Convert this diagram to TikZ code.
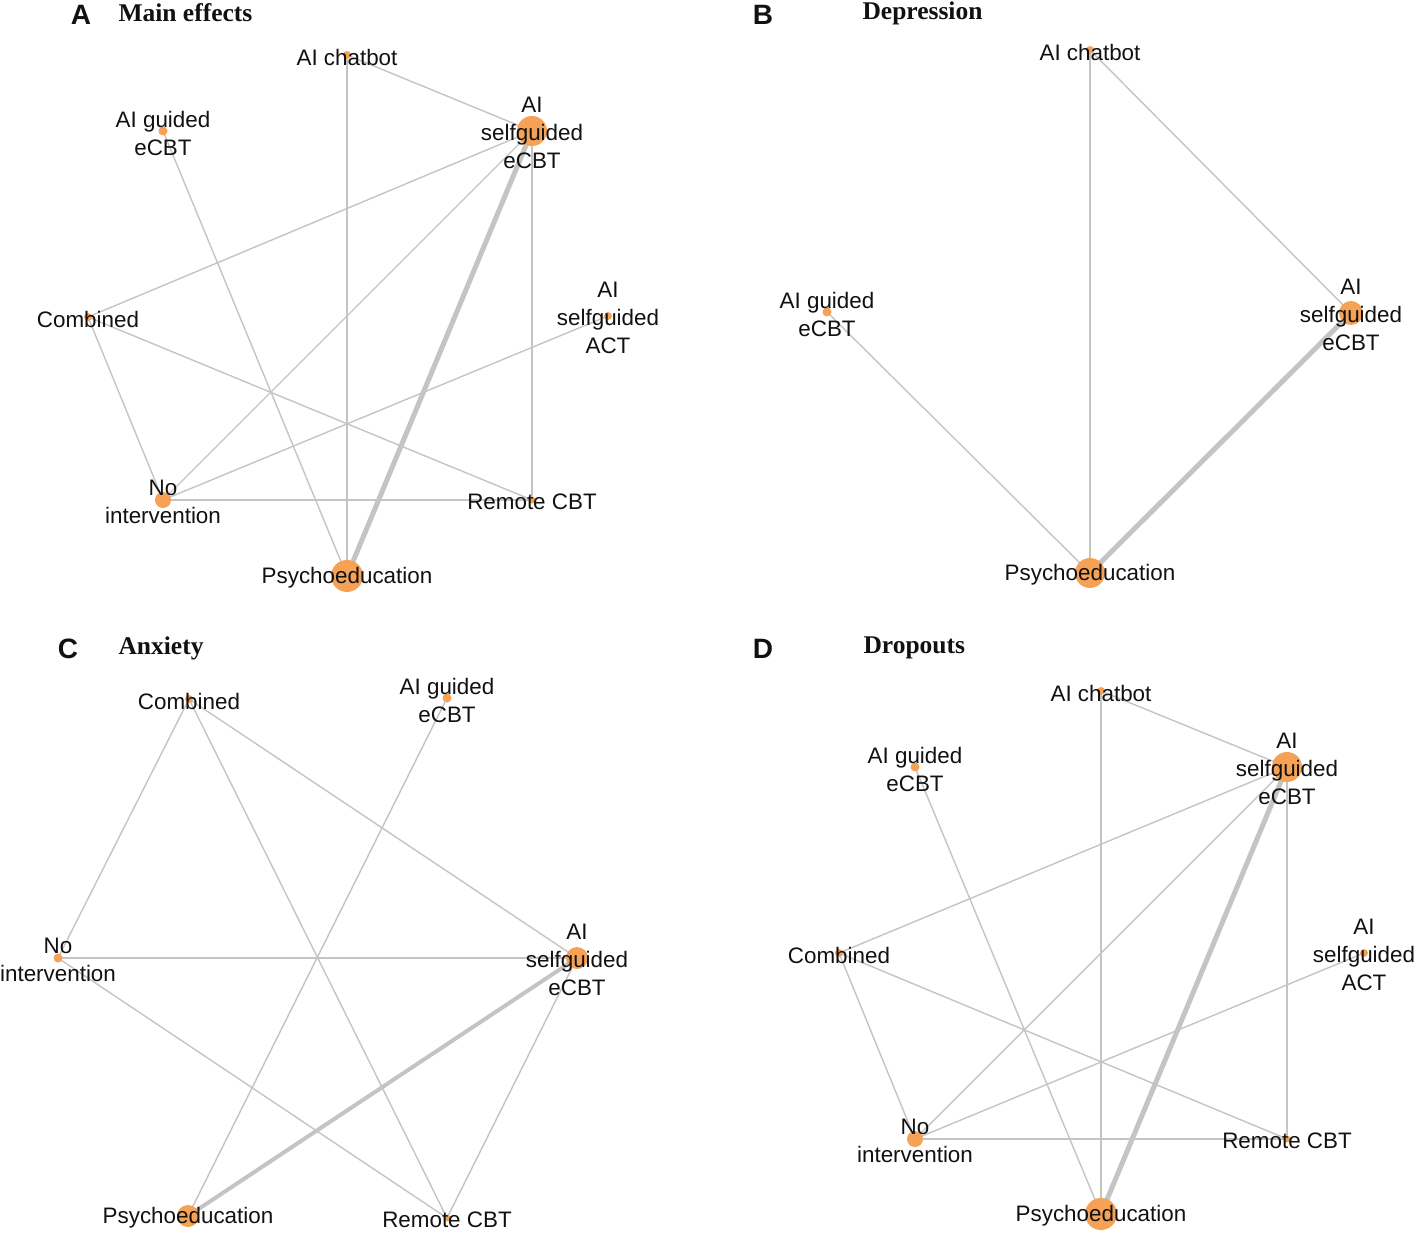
\documentclass[tikz,border=0pt]{standalone}
\usepackage{fontspec}
\setmainfont{Liberation Sans}
\newfontfamily\titlefont{Liberation Serif}
\usepackage{xcolor}
\usetikzlibrary{backgrounds}
\definecolor{DOT}{HTML}{F5A156}
\definecolor{EDGE}{HTML}{C4C4C4}
\definecolor{INK}{HTML}{111111}

\begin{document}
\begin{tikzpicture}[
    x=1pt, y=-1pt,
    dot/.style={circle, fill=DOT, inner sep=0pt, minimum size=#1},
    lab/.style={font=\fontsize{22.4}{28}\selectfont, text=INK, align=center, inner sep=0pt, yshift=-2pt},
    link/.style={draw=EDGE, line width=1.4pt},
    heavy/.style={draw=EDGE, line width=#1},
    letter/.style={font=\fontsize{28}{30}\selectfont\bfseries, text=INK},
    title/.style={font=\titlefont\fontsize{25.5}{28}\selectfont\bfseries, text=INK, anchor=west},
  ]
  \useasboundingbox (0,0) rectangle (1417,1238);

  % panel titles
  \node[letter] (la) at (81,15) {A};
  \node[title] (ta) at (115,13) {Main effects};
  \node[letter] (lb) at (763,15) {B};
  \node[title] (tb) at (859,13) {Depression};
  \node[letter] (lc) at (68,649) {C};
  \node[title] (tc) at (115,648) {Anxiety};
  \node[letter] (ld) at (763,649) {D};
  \node[title] (td) at (860,648) {Dropouts};

  % A: main effects
  \node[dot=8,  label={[lab]center:AI chatbot}] (a-chat) at (347,55) {};
  \node[dot=9,  label={[lab]center:AI guided\\eCBT}] (a-guid) at (163,131) {};
  \node[dot=30, label={[lab]center:AI\\selfguided\\eCBT}] (a-self) at (532,131) {};
  \node[dot=8,  label={[lab]center:Combined}] (a-comb) at (88,317) {};
  \node[dot=8,  label={[lab]center:AI\\selfguided\\ACT}] (a-act) at (608,316) {};
  \node[dot=16, label={[lab]center:No\\intervention}] (a-none) at (163,500) {};
  \node[dot=7,  label={[lab]center:Remote CBT}] (a-remo) at (532,500) {};
  \node[dot=32, label={[lab]center:Psychoeducation}] (a-psy) at (347,576) {};

  % B: depression
  \node[dot=8,  label={[lab]center:AI chatbot}] (b-chat) at (1090,50) {};
  \node[dot=9,  label={[lab]center:AI guided\\eCBT}] (b-guid) at (827,312) {};
  \node[dot=24, label={[lab]center:AI\\selfguided\\eCBT}] (b-self) at (1351,313) {};
  \node[dot=30, label={[lab]center:Psychoeducation}] (b-psy) at (1090,573) {};

  % C: anxiety
  \node[dot=8,  label={[lab]center:Combined}] (c-comb) at (189,699) {};
  \node[dot=9,  label={[lab]center:AI guided\\eCBT}] (c-guid) at (447,698) {};
  \node[dot=9,  label={[lab]center:No\\intervention}] (c-none) at (58,958) {};
  \node[dot=22, label={[lab]center:AI\\selfguided\\eCBT}] (c-self) at (577,958) {};
  \node[dot=22, label={[lab]center:Psychoeducation}] (c-psy) at (188,1216) {};
  \node[dot=7,  label={[lab]center:Remote CBT}] (c-remo) at (447,1218) {};

  % D: dropouts
  \node[dot=8,  label={[lab]center:AI chatbot}] (d-chat) at (1101,691) {};
  \node[dot=9,  label={[lab]center:AI guided\\eCBT}] (d-guid) at (915,767) {};
  \node[dot=30, label={[lab]center:AI\\selfguided\\eCBT}] (d-self) at (1287,767) {};
  \node[dot=8,  label={[lab]center:Combined}] (d-comb) at (839,953) {};
  \node[dot=8,  label={[lab]center:AI\\selfguided\\ACT}] (d-act) at (1364,953) {};
  \node[dot=16, label={[lab]center:No\\intervention}] (d-none) at (915,1139) {};
  \node[dot=7,  label={[lab]center:Remote CBT}] (d-remo) at (1287,1139) {};
  \node[dot=32, label={[lab]center:Psychoeducation}] (d-psy) at (1101,1214) {};

  % edges behind the dots
  \begin{scope}[on background layer]
    \foreach \p in {a,d} {
      \draw[link] (\p-chat.center) -- (\p-psy.center);
      \draw[link] (\p-chat.center) -- (\p-self.center);
      \draw[link] (\p-guid.center) -- (\p-psy.center);
      \draw[link] (\p-self.center) -- (\p-comb.center);
      \draw[link] (\p-self.center) -- (\p-none.center);
      \draw[link] (\p-self.center) -- (\p-remo.center);
      \draw[link] (\p-comb.center) -- (\p-none.center);
      \draw[link] (\p-comb.center) -- (\p-remo.center);
      \draw[link] (\p-act.center) -- (\p-none.center);
      \draw[link] (\p-none.center) -- (\p-remo.center);
      \draw[heavy=5pt] (\p-self.center) -- (\p-psy.center);
    }

    \draw[link] (b-chat.center) -- (b-psy.center);
    \draw[link] (b-chat.center) -- (b-self.center);
    \draw[link] (b-guid.center) -- (b-psy.center);
    \draw[heavy=5pt] (b-self.center) -- (b-psy.center);

    \draw[link] (c-comb.center) -- (c-none.center);
    \draw[link] (c-comb.center) -- (c-remo.center);
    \draw[link] (c-comb.center) -- (c-self.center);
    \draw[link] (c-guid.center) -- (c-psy.center);
    \draw[link] (c-none.center) -- (c-self.center);
    \draw[link] (c-none.center) -- (c-remo.center);
    \draw[link] (c-self.center) -- (c-remo.center);
    \draw[heavy=4pt] (c-self.center) -- (c-psy.center);
  \end{scope}

\end{tikzpicture}
\end{document}
